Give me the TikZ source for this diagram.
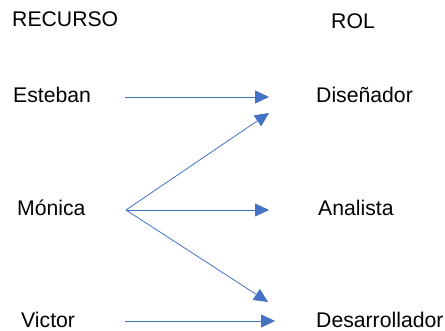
\documentclass[tikz,border=0pt]{standalone}
\usepackage{fontspec}
\setmainfont{Liberation Sans}
\usetikzlibrary{arrows.meta}
\definecolor{linkblue}{HTML}{4472C4}
\begin{document}
\begin{tikzpicture}[x=1pt,y=-1pt,
  lbl/.style={anchor=base west,inner sep=0pt,font=\fontsize{21.2}{25}\selectfont},
  link/.style={draw=linkblue,line width=0.8pt,-{Triangle[length=14pt,width=13pt,fill=linkblue]}}]
\useasboundingbox (0,0) rectangle (445,331);
% column headings
\node[lbl] (hres) at (12,27) {RECURSO};
\node[lbl] (hrol) at (331,29) {ROL};
% people
\node[lbl] (esteban) at (13,103) {Esteban};
\node[lbl] (monica) at (17,216) {Mónica};
\node[lbl] (victor) at (21,328) {Victor};
% roles
\node[lbl] (disenador) at (316,103) {Diseñador};
\node[lbl] (analista) at (318,216) {Analista};
\node[lbl] (desarrollador) at (316,328) {Desarrollador};
% arrow end points
\coordinate (eS) at (125,97);
\coordinate (eE) at (269,97);
\coordinate (mS) at (126,210);
\coordinate (mD) at (269,113);
\coordinate (mA) at (269,210);
\coordinate (mR) at (268,302);
\coordinate (vS) at (125,321);
\coordinate (vE) at (275,321);
% assignments
\draw[link] (eS) -- (eE);
\draw[link] (mS) -- (mD);
\draw[link] (mS) -- (mA);
\draw[link] (mS) -- (mR);
\draw[link] (vS) -- (vE);
\end{tikzpicture}
\end{document}
